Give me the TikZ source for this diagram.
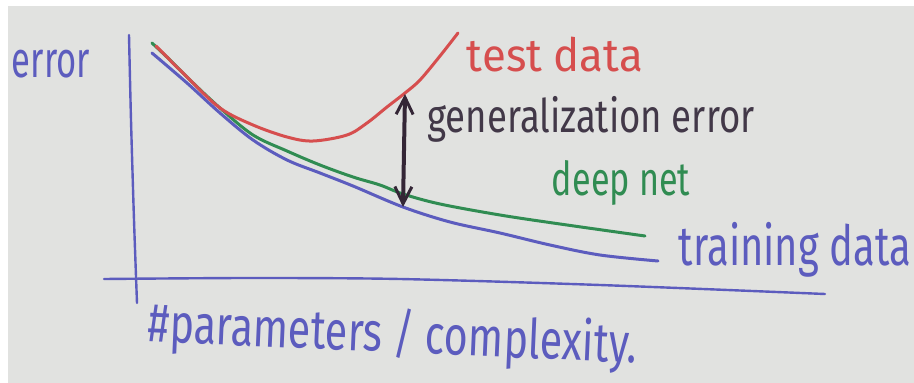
\documentclass[tikz,border=0pt]{standalone}
\usepackage{fontspec}
\setmainfont{Fira Sans}
\usetikzlibrary{arrows.meta}
\definecolor{paper}{RGB}{225,226,224}
\definecolor{inkblue}{RGB}{92,92,190}
\definecolor{inkred}{RGB}{214,78,78}
\definecolor{inkgreen}{RGB}{48,140,82}
\definecolor{inkdark}{RGB}{52,38,54}
\definecolor{textdark}{RGB}{66,56,72}
\tikzset{
  ink/.style={line width=3pt, line cap=round, line join=round},
  axisline/.style={ink, inkblue, line width=2.4pt},
  curve/.style={ink, smooth, tension=0.55},
  label/.style={inner sep=0pt, anchor=center},
  gaparrow/.style={line width=4pt, inkdark, line cap=round,
    {Straight Barb[length=17pt,width=17pt,line width=3pt]}-{Straight Barb[length=17pt,width=17pt,line width=3pt]}}
}
\begin{document}
\begin{tikzpicture}[x=1pt, y=-1pt]
  % sheet of paper on a white ground
  \fill[white] (0,0) rectangle (914,383);
  \fill[paper] (8,6) rectangle (914,383);
  \useasboundingbox (0,0) rectangle (914,383);

  % axes
  \draw[axisline] plot[smooth, tension=0.5] coordinates {(129,35) (131,120) (134,220) (137,303)};
  \draw[axisline] plot[smooth, tension=0.5] coordinates {(104,279) (250,278) (400,279) (600,285) (825,294)};

  % error curves
  \draw[ink, inkblue] plot[curve] coordinates {(152,53) (187,83) (220,113) (253,140) (287,160) (320,173) (353,186) (403,207) (450,222) (500,233) (550,245) (600,255) (658,261)};
  \draw[ink, inkgreen] plot[curve] coordinates {(152,43) (170,60) (190,80) (220,108) (253,135) (287,151) (320,165) (353,177) (380,185) (403,194) (440,204) (500,215) (560,224) (645,236)};
  \draw[ink, inkred] plot[curve] coordinates {(156,46) (187,77) (220,108) (253,125) (287,137) (313,141) (347,135) (367,123) (387,107) (405,93) (420,80) (440,56) (458,33)};

  % generalization gap between test and training curves
  \coordinate (gtop) at (405,94);
  \coordinate (gbot) at (403,207);
  \draw[gaparrow] (gbot) -- (gtop);

  % labels
  \node[label, text=inkblue] (yl) at (51,64) {\resizebox*{78pt}{28pt}{error}};
  \node[label, text=inkred] (testl) at (555,55) {\resizebox*{176pt}{35pt}{test data}};
  \node[label, text=textdark] (genl) at (591,119) {\resizebox*{327pt}{46pt}{generalization error}};
  \node[label, text=inkgreen] (deepl) at (621,183) {\resizebox*{138pt}{45pt}{deep net}};
  \node[label, text=inkblue] (trainl) at (795,250) {\resizebox*{232pt}{55pt}{training data}};
  \node[label, text=inkblue, rotate=-2.5] (xl) at (393,336) {\resizebox*{489pt}{56pt}{\#parameters / complexity.}};
\end{tikzpicture}
\end{document}
